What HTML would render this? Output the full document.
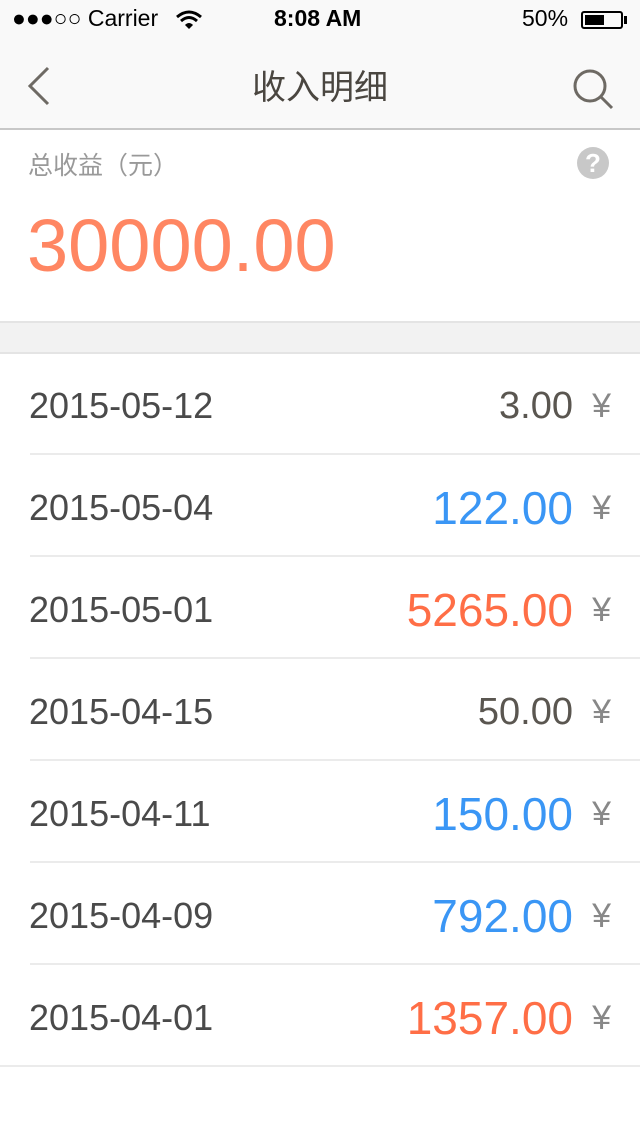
<!DOCTYPE html>
<html><head><meta charset="utf-8"><style>
body{margin:0;width:640px;height:1136px;background:#fff;font-family:"Liberation Sans","Noto Sans CJK SC",sans-serif;position:relative;overflow:hidden}
.abs{position:absolute}
.row{position:absolute;left:0;width:640px;height:102px}
.row .date{position:absolute;left:29px;top:2px;line-height:102px;font-size:36px;color:#4a4a4a}
.row .amt{position:absolute;right:67px;top:2px;line-height:102px}
.row .yen{position:absolute;right:29px;top:2px;line-height:102px;font-size:34px;color:#888}
.row .sep{position:absolute;left:30px;right:0;bottom:0;height:2px;background:#ebebeb}
</style></head><body>
<div class="abs" style="left:0;top:0;width:640px;height:40px;background:#f9f9f9">
 <span class="abs" style="left:12px;top:5px;font-size:23px;color:#000">●●●○○ Carrier</span>
 <svg class="abs" style="left:176px;top:10px" width="26" height="20" viewBox="0 0 26 20"><path d="M1 7 Q13 -3 25 7" stroke="#000" stroke-width="3" fill="none"/><path d="M5 11 Q13 4 21 11" stroke="#000" stroke-width="3" fill="none"/><path d="M9 15 Q13 11 17 15 L13 19Z" fill="#000"/></svg>
 <span class="abs" style="left:274px;top:5px;font-size:23px;font-weight:bold;color:#000">8:08 AM</span>
 <span class="abs" style="left:522px;top:5px;font-size:23px;color:#000">50%</span>
 <div class="abs" style="left:581px;top:11px;width:42px;height:18px;border:2px solid #000;border-radius:3px;box-sizing:border-box"><div style="position:absolute;left:2px;top:2px;width:19px;height:10px;background:#000"></div></div>
 <div class="abs" style="left:624px;top:16px;width:3px;height:8px;background:#000"></div>
</div>
<div class="abs" style="left:0;top:40px;width:640px;height:88px;background:#f9f9f9;border-bottom:2px solid #c8c8c8">
 <svg class="abs" style="left:26px;top:26px" width="26" height="40"><path d="M22 2 L4 20 L22 38" stroke="#6e6a64" stroke-width="3" fill="none"/></svg>
 <span class="abs" style="left:0;width:640px;text-align:center;top:20px;font-size:34px;color:#4a4640">收入明细</span>
 <svg class="abs" style="left:572px;top:28px" width="44" height="44"><circle cx="18" cy="18" r="15" stroke="#6e6a64" stroke-width="3" fill="none"/><path d="M29 29 L40 40" stroke="#6e6a64" stroke-width="3"/></svg>
</div>
<span class="abs" style="left:28px;top:146px;font-size:25px;color:#999">总收益（元）</span>
<div class="abs" style="left:577px;top:147px;width:32px;height:32px;border-radius:50%;background:#c8c8c8;color:#fff;font-weight:bold;font-size:26px;text-align:center;line-height:32px">?</div>
<span class="abs" style="left:27px;top:204px;font-size:74px;color:#ff8662;line-height:84px">30000.00</span>
<div class="abs" style="left:0;top:321px;width:640px;height:29px;background:#f2f2f2;border-top:2px solid #e4e4e4;border-bottom:2px solid #e4e4e4"></div>
<div id="list"></div>
<script>
const dates=["2015-05-12","2015-05-04","2015-05-01","2015-04-15","2015-04-11","2015-04-09","2015-04-01"];
const amounts=["3.00","122.00","5265.00","50.00","150.00","792.00","1357.00"];
const kinds=["gray","blue","red","gray","blue","blue","red"];
const colors={gray:"#5a5650",blue:"#3a96f5",red:"#ff6e46"};
const sizes={gray:38,blue:46,red:46};
const list=document.getElementById('list');
dates.forEach((d,i)=>{
 const r=document.createElement('div');r.className='row';r.style.top=(353+i*102)+'px';
 
 
 const a=document.createElement('span');a.className='date';a.textContent=d;
 
 
 const b=document.createElement('span');b.className='amt';b.textContent=amounts[i];
 b.style.color=colors[kinds[i]];b.style.fontSize=sizes[kinds[i]]+'px';
 
 
 const y=document.createElement('span');y.className='yen';y.textContent='¥';
 
 
 const s=document.createElement('div');s.className='sep';
 if(i===dates.length-1)s.style.left='0';
 
 
 r.append(a,b,y,s);list.appendChild(r);
});
</script>
</body></html>
